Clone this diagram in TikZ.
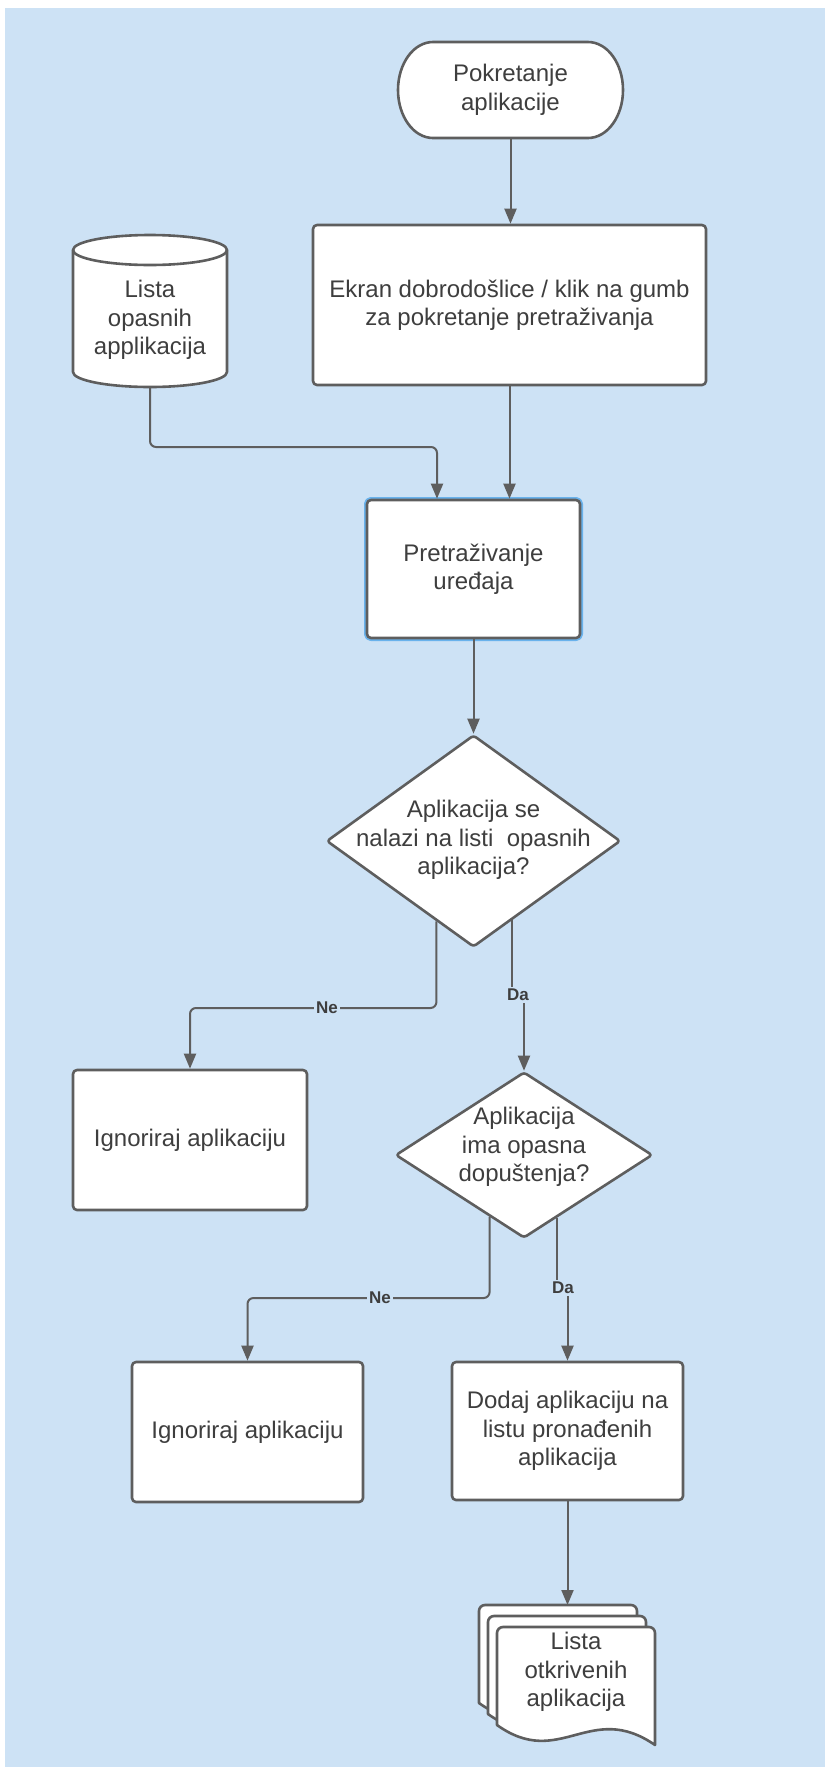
\documentclass[tikz,border=0pt]{standalone}
\usepackage{fontspec}
\setmainfont{Liberation Sans}
\usetikzlibrary{arrows.meta,calc,shapes.geometric}
\definecolor{bg}{RGB}{205,226,245}
\definecolor{ln}{RGB}{94,94,94}
\definecolor{txt}{RGB}{62,62,62}
\definecolor{glow}{RGB}{105,178,236}
\begin{document}
\begin{tikzpicture}[x=1pt,y=1pt,
  shp/.style={draw=ln, fill=white, line width=2.6pt, line join=round},
  box/.style={shp, rectangle, rounded corners=4pt, inner sep=0pt, align=center, text=txt, font=\fontsize{24}{28.5}\selectfont},
  txtnode/.style={inner sep=0pt, align=center, text=txt, font=\fontsize{24}{28.5}\selectfont},
  decision/.style={shp, diamond, inner sep=0pt, rounded corners=3pt},
  conn/.style={draw=ln, line width=2pt, -{Triangle[length=15pt,width=12pt]}, rounded corners=6pt},
  lbl/.style={fill=bg, inner sep=2pt, text=txt, font=\fontsize{17}{20}\selectfont\bfseries},
]
\useasboundingbox (0,0) rectangle (825,-1778);
\fill[white] (0,0) rectangle (825,-1778);
\fill[bg] (5,-8) rectangle (825,-1767);

% terminal
\draw[shp] (433,-42) -- (588,-42) arc[start angle=90, end angle=-90, x radius=35pt, y radius=48pt] -- (433,-138) arc[start angle=270, end angle=90, x radius=35pt, y radius=48pt] -- cycle;
\node[txtnode, minimum width=225pt, minimum height=96pt] (start) at (510.5,-90) {Pokretanje\\aplikacije};

% welcome box
\node[box, minimum width=393pt, minimum height=160pt] (welcome) at (509.5,-305) {Ekran dobrodošlice / klik na gumb\\za pokretanje pretraživanja};

% database cylinder
\draw[shp] (73,-250) -- (73,-372) arc[start angle=180, end angle=360, x radius=77pt, y radius=15pt] -- (227,-250) arc[start angle=0, end angle=180, x radius=77pt, y radius=15pt] -- cycle;
\draw[shp, fill=none] (73,-250) arc[start angle=180, end angle=360, x radius=77pt, y radius=15pt];
\node[txtnode] (db) at (150,-320) {Lista\\opasnih\\applikacija};
\coordinate (dbbot) at (150,-387);

% scan box
\node[box, minimum width=213pt, minimum height=138pt, preaction={draw=glow, line width=6pt}] (scan) at (473.5,-569) {Pretraživanje\\uređaja};

% decision 1
\node[decision, minimum width=294pt, minimum height=212pt] (q1) at (473.5,-841) {};
\node[txtnode] (q1t) at (473.5,-840) {Aplikacija se\\nalazi na listi~ opasnih\\aplikacija?};

% ignore 1
\node[box, minimum width=234pt, minimum height=140pt] (ign1) at (190,-1140) {Ignoriraj aplikaciju};

% decision 2
\node[decision, minimum width=257pt, minimum height=166pt] (q2) at (524,-1155) {};
\node[txtnode] (q2t) at (524,-1147) {Aplikacija\\ima opasna\\dopuštenja?};

% ignore 2 and add
\node[box, minimum width=231pt, minimum height=140pt] (ign2) at (247.5,-1432) {Ignoriraj aplikaciju};
\node[box, minimum width=231pt, minimum height=138pt] (add) at (567.5,-1431) {Dodaj aplikaciju na\\listu pronađenih\\aplikacija};

% multi-document
\foreach \dx/\dy in {-18/22, -9/11, 0/0} {
  \draw[shp, shift={(\dx,\dy)}] (497,-1725) -- (497,-1633) arc[start angle=180, end angle=90, radius=6pt] -- (649,-1627) arc[start angle=90, end angle=0, radius=6pt] -- (655,-1745) .. controls (590,-1700) and (560,-1770) .. (497,-1725) -- cycle;
}
\node[txtnode] (doc) at (576,-1672) {Lista\\otkrivenih\\aplikacija};
\coordinate (docin) at (567.5,-1605);

% label positions
\coordinate (ne1pos) at (327,-1008);
\coordinate (da1pos) at (518,-995);
\coordinate (ne2pos) at (380,-1298);
\coordinate (da2pos) at (563,-1288);
\coordinate (j1) at (437,-447);

% connectors
\draw[conn] (start.south) -- (start.south |- welcome.north);
\draw[conn] (welcome.south) -- (welcome.south |- scan.north);
\draw[conn] (dbbot) |- (j1) -- (j1 |- scan.north);
\draw[conn] (scan.south) -- (q1.north);
\draw[conn] ($(q1.west)!0.75!(q1.south)$) |- (ign1.north |- ne1pos) -- (ign1.north);
\draw[conn, sharp corners] ($(q1.south)!0.26!(q1.east)$) coordinate (q1da) -- (q1da |- da1pos) -- (q2.north |- da1pos) -- (q2.north);
\draw[conn] ($(q2.west)!0.735!(q2.south)$) |- (ign2.north |- ne2pos) -- (ign2.north);
\draw[conn, sharp corners] ($(q2.south)!0.257!(q2.east)$) coordinate (q2da) -- (q2da |- da2pos) -- (add.north |- da2pos) -- (add.north);
\draw[conn] (add.south) -- (docin);

% labels
\node[lbl] (ne1) at (ne1pos) {Ne};
\node[lbl] (da1) at (da1pos) {Da};
\node[lbl] (ne2) at (ne2pos) {Ne};
\node[lbl] (da2) at (da2pos) {Da};
\end{tikzpicture}
\end{document}
